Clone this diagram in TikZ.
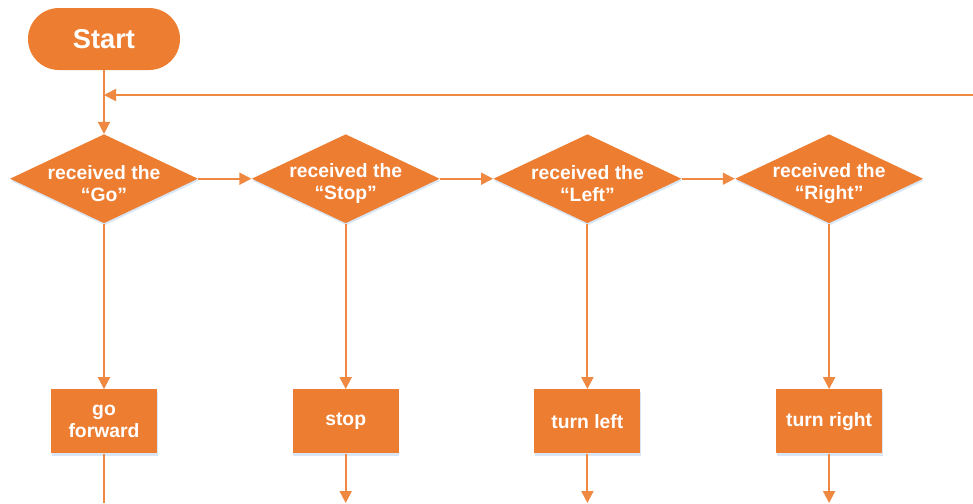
\documentclass[tikz,border=0pt]{standalone}
\usepackage{fontspec}
\setmainfont{Liberation Sans}
\usepackage{tikz}
\usetikzlibrary{positioning, arrows.meta, shapes.geometric, shadows}
\definecolor{Carrot}{HTML}{ED7D31}
\definecolor{CarrotLine}{HTML}{EF8840}
\definecolor{Haze}{HTML}{CFE0F2}

\begin{document}
\begin{tikzpicture}[
    terminal/.style={fill=Carrot, rounded corners=0.62cm, minimum width=3.04cm, minimum height=1.24cm, text=white, font=\fontsize{15.5}{18}\selectfont\bfseries},
    decision/.style={diamond, fill=Carrot, minimum width=3.76cm, minimum height=1.78cm, inner sep=0pt, drop shadow={fill=Haze, opacity=0.8, shadow xshift=0.4pt, shadow yshift=-1.2pt}},
    dtext/.style={text=white, align=center, font=\fontsize{11}{12.5}\selectfont\bfseries},
    action/.style={fill=Carrot, minimum width=2.12cm, minimum height=1.28cm, align=center, text=white, font=\fontsize{11}{12.5}\selectfont\bfseries, drop shadow={fill=Haze, opacity=0.8, shadow xshift=0.4pt, shadow yshift=-1.2pt}},
    flow/.style={draw=CarrotLine, line width=1.1pt, -{Triangle[length=2.4mm, width=2.4mm]}},
    wire/.style={draw=CarrotLine, line width=1.1pt},
    node distance=1.06cm
]
\useasboundingbox (0,0) rectangle (19.46,-10.06);
\coordinate (floor) at (0,-10.06);
\coordinate (back) at (19.46,-1.9);

% Start
\node[terminal] (start) at (2.08,-0.78) {Start};

% Checks
\node[decision, below=1.27cm of start] (qgo) {};
\node[dtext] at ([yshift=-0.1cm]qgo.center) {received the\\“Go”};
\node[decision, right=of qgo] (qstop) {};
\node[dtext] at ([yshift=-0.1cm]qstop.center) {received the\\“Stop”};
\node[decision, right=of qstop] (qleft) {};
\node[dtext] at ([yshift=-0.1cm]qleft.center) {received the\\“Left”};
\node[decision, right=of qleft] (qright) {};
\node[dtext] at ([yshift=-0.1cm]qright.center) {received the\\“Right”};

% Actions
\node[action, below=3.31cm of qgo] (fwd) {go\\forward};
\node[action, below=3.31cm of qstop] (halt) {stop};
\node[action, below=3.31cm of qleft] (turnl) {turn left};
\node[action, below=3.31cm of qright] (turnr) {turn right};

% Connectors
\draw[flow] (start) -- (qgo);
\draw[flow] (back) -- (back -| start);
\draw[flow] (qgo.east) -- (qstop.west);
\draw[flow] (qstop.east) -- (qleft.west);
\draw[flow] (qleft.east) -- (qright.west);
\draw[flow] (qgo.south) -- (fwd);
\draw[flow] (qstop.south) -- (halt);
\draw[flow] (qleft.south) -- (turnl);
\draw[flow] (qright.south) -- (turnr);
\draw[wire] (fwd) -- (fwd |- floor);
\draw[flow] (halt) -- (halt |- floor);
\draw[flow] (turnl) -- (turnl |- floor);
\draw[flow] (turnr) -- (turnr |- floor);

\end{tikzpicture}
\end{document}
